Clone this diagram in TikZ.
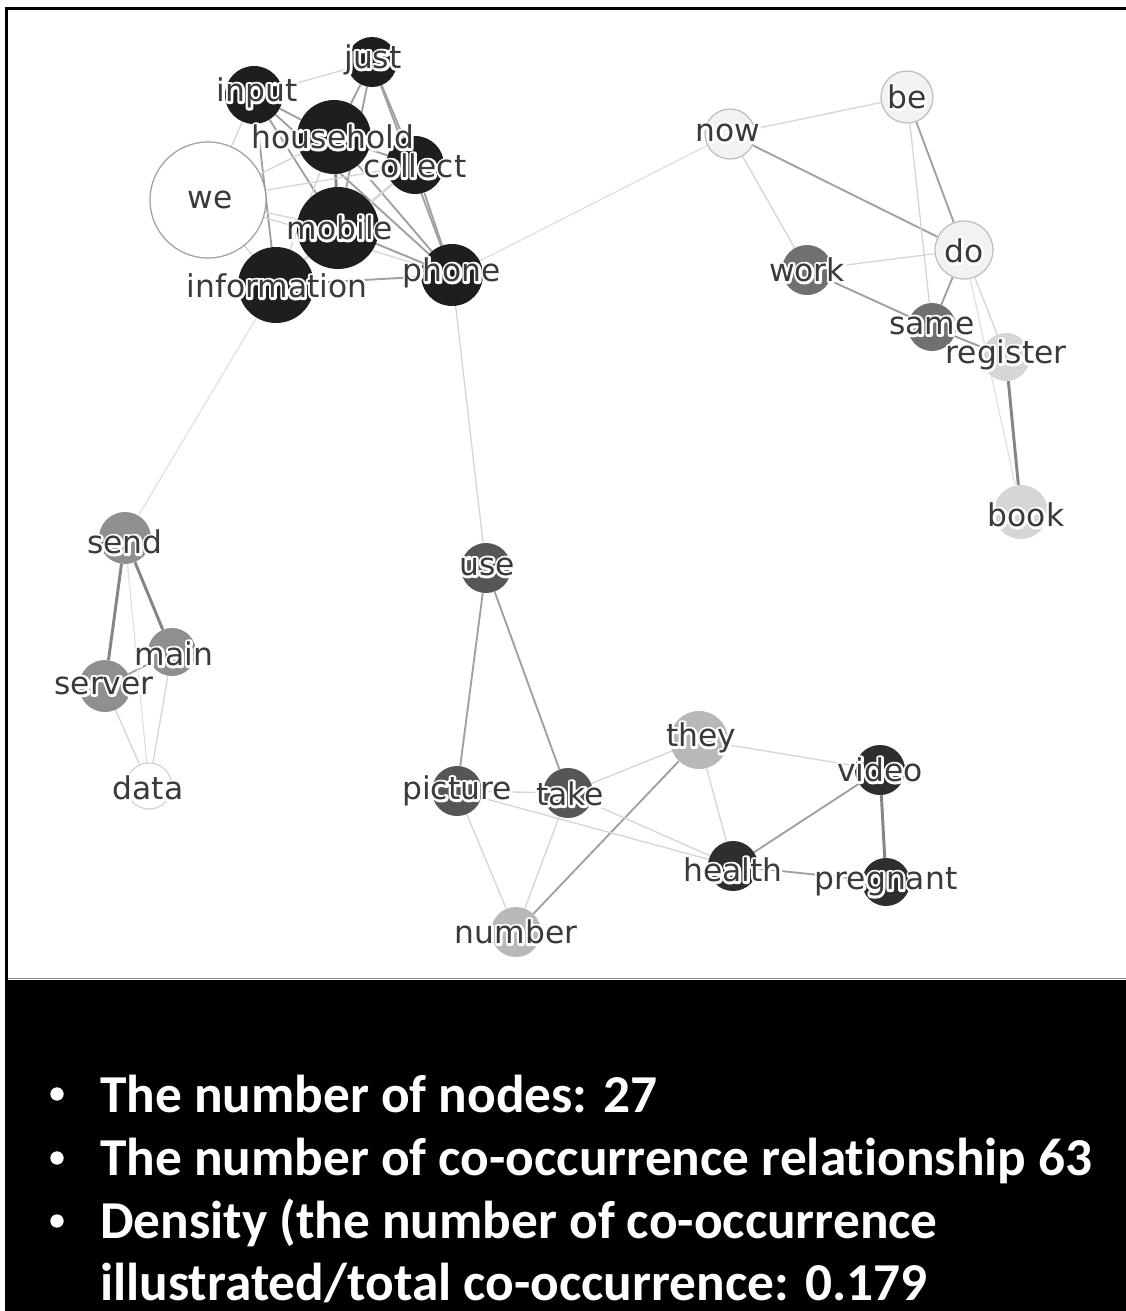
\documentclass[tikz,border=0pt]{standalone}
\usepackage{fontspec}
\setmainfont{DejaVu Sans}
\newfontfamily\wordfont{DejaVu Sans}
\newfontfamily\statfont{Carlito}[Ligatures=NoCommon]
\pgfdeclarelayer{ground}
\pgfdeclarelayer{edges}
\pgfdeclarelayer{labels}
\pgfsetlayers{ground,edges,main,labels}

\definecolor{cTop}{HTML}{1E1E1E}
\definecolor{cPale}{HTML}{F2F2F2}
\definecolor{cPaleLine}{HTML}{BDBDBD}
\definecolor{cWork}{HTML}{707070}
\definecolor{cReg}{HTML}{D6D6D6}
\definecolor{cSend}{HTML}{8F8F8F}
\definecolor{cUse}{HTML}{565656}
\definecolor{cThey}{HTML}{B8B8B8}
\definecolor{cHealth}{HTML}{2E2E2E}
\definecolor{cText}{HTML}{3A3A3A}
\definecolor{eLight}{HTML}{D6D6D6}
\definecolor{eMid}{HTML}{A0A0A0}
\definecolor{eDark}{HTML}{858585}

% letters stroked in white first, then filled on top: a halo
\newcommand\halotext[1]{\leavevmode\rlap{\special{pdf:code q 1 Tr 3.6 w 1 j 1 J}\color{white}#1\special{pdf:code Q}}#1}

\tikzset{
  word/.style={circle, inner sep=0pt, minimum size=#1*1.5pt},
  wlab/.style={font=\wordfont\fontsize{23.5}{25}\selectfont, text=cText, inner sep=0pt},
  elight/.style={draw=eLight, line width=1pt},
  emid/.style={draw=eMid, line width=1.4pt},
  edark/.style={draw=eDark, line width=2.2pt},
  efaint/.style={draw=eLight!75, line width=0.9pt},
  statline/.style={font=\statfont\bfseries\fontsize{40}{48}\selectfont, text=white, anchor=base west, inner sep=0pt},
  dot/.style={circle, fill=white, inner sep=0pt, minimum size=10pt}
}

\newcommand\wordlabel[3]{\node[wlab] (#1) at (#2) {\halotext{#3}};}

\begin{document}
\begin{tikzpicture}[x=0.75pt,y=-0.75pt]
\useasboundingbox (0,0) rectangle (1126,1311);

% frame and statistics panel
\begin{pgfonlayer}{ground}
  \fill[white] (0,0) rectangle (1126,1311);
  \fill[black] (5,980) rectangle (1126,1311);
  \draw[line width=2.3pt] (6.5,1311) -- (6.5,8.5) -- (1126,8.5);
  \draw[black!45, line width=1pt] (8,978.5) -- (1126,978.5);
\end{pgfonlayer}

% ---- word circles ----
% cluster: mobile phone
\node[word=58, fill=white, draw=black!38, line width=0.9pt] (we) at (208,200) {};
\node[word=25, fill=cTop] (just) at (372,62) {};
\node[word=29, fill=cTop] (input) at (254,95) {};
\node[word=29, fill=cTop] (collect) at (415,165) {};
\node[word=37, fill=cTop] (household) at (334,137) {};
\node[word=41, fill=cTop] (mobile) at (338,228) {};
\node[word=38, fill=cTop] (information) at (276,285) {};
\node[word=31, fill=cTop] (phone) at (452,275) {};
% cluster: now / do
\node[word=26, fill=cPale, draw=cPaleLine, line width=0.9pt] (be) at (907,97) {};
\node[word=25, fill=cPale, draw=cPaleLine, line width=0.9pt] (now) at (730,134) {};
\node[word=29, fill=cPale, draw=cPaleLine, line width=0.9pt] (do) at (964,250) {};
\node[word=25, fill=cWork] (work) at (807,270) {};
\node[word=24, fill=cWork] (same) at (932,327) {};
\node[word=24, fill=cReg] (register) at (1006,357) {};
\node[word=27, fill=cReg] (book) at (1021,512) {};
% cluster: send / server
\node[word=26, fill=cSend] (send) at (125,538) {};
\node[word=24, fill=cSend] (main) at (172,652) {};
\node[word=26, fill=cSend] (server) at (105,686) {};
\node[word=23, fill=white, draw=black!18, line width=0.9pt] (data) at (149,786) {};
% cluster: use / health
\node[word=25, fill=cUse] (use) at (486,568) {};
\node[word=25, fill=cUse] (picture) at (457,791) {};
\node[word=25, fill=cUse] (take) at (568,793) {};
\node[word=29, fill=cThey] (they) at (699,740) {};
\node[word=25, fill=cHealth] (video) at (880,770) {};
\node[word=25, fill=cHealth] (health) at (733,866) {};
\node[word=24, fill=cHealth] (pregnant) at (886,882) {};
\node[word=25, fill=cThey] (number) at (516,932) {};

% ---- co-occurrence links ----
\begin{pgfonlayer}{edges}
  % mobile phone cluster
  \draw[emid] (input) -- (household);
  \draw[emid] (just) -- (household);
  \draw[emid] (just) -- (collect);
  \draw[emid] (just) -- (phone);
  \draw[emid] (just) -- (mobile);
  \draw[edark] (household) -- (mobile);
  \draw[emid] (household) -- (collect);
  \draw[emid] (household) -- (phone);
  \draw[emid] (collect) -- (phone);
  \draw[emid] (mobile) -- (phone);
  \draw[emid] (information) -- (phone);
  \draw[emid] (input) -- (information);
  \draw[emid] (input) -- (mobile);
  \draw[emid] (input) -- (phone);
  \draw[elight] (input) -- (just);
  \draw[elight] (we) -- (mobile);
  \draw[elight] (we) -- (household);
  \draw[elight] (we) -- (input);
  \draw[elight] (we) -- (information);
  \draw[elight] (we) -- (collect);
  \draw[elight] (we) -- (phone);
  \draw[elight] (collect) -- (mobile);
  \draw[elight] (mobile) -- (information);
  \draw[elight] (household) -- (information);
  \draw[elight] (collect) -- (information);
  % bridges between clusters
  \draw[efaint] (phone) -- (now);
  \draw[efaint] (information) -- (send);
  \draw[elight] (phone) -- (use);
  % now / do cluster
  \draw[emid] (now) -- (do);
  \draw[emid] (be) -- (do);
  \draw[emid] (work) -- (same);
  \draw[emid] (do) -- (same);
  \draw[emid] (same) -- (register);
  \draw[edark] (register) -- (book);
  \draw[elight] (now) -- (be);
  \draw[elight] (now) -- (work);
  \draw[elight] (be) -- (same);
  \draw[elight] (work) -- (do);
  \draw[elight] (do) -- (register);
  \draw[efaint] (do) -- (book);
  % send / server cluster
  \draw[edark] (send) -- (server);
  \draw[edark] (send) -- (main);
  \draw[emid] (server) -- (main);
  \draw[elight] (server) -- (data);
  \draw[elight] (main) -- (data);
  \draw[efaint] (send) -- (data);
  % use / health cluster
  \draw[emid] (use) -- (picture);
  \draw[emid] (use) -- (take);
  \draw[emid] (they) -- (number);
  \draw[emid] (health) -- (video);
  \draw[edark] (video) -- (pregnant);
  \draw[emid] (health) -- (pregnant);
  \draw[elight] (picture) -- (take);
  \draw[elight] (take) -- (they);
  \draw[elight] (picture) -- (number);
  \draw[elight] (take) -- (number);
  \draw[elight] (picture) -- (health);
  \draw[elight] (take) -- (health);
  \draw[elight] (they) -- (health);
  \draw[elight] (they) -- (video);
\end{pgfonlayer}

% ---- word labels ----
\begin{pgfonlayer}{labels}
  \wordlabel{we-l}{210,200}{we}
  \wordlabel{just-l}{373,60}{just}
  \wordlabel{input-l}{257,93}{input}
  \wordlabel{household-l}{333,137}{household}
  \wordlabel{collect-l}{415,166}{collect}
  \wordlabel{mobile-l}{340,228}{mobile}
  \wordlabel{information-l}{277,286}{information}
  \wordlabel{phone-l}{452,273}{phone}
  \wordlabel{be-l}{907,97}{be}
  \wordlabel{now-l}{728,133}{now}
  \wordlabel{do-l}{964,251}{do}
  \wordlabel{work-l}{807,270}{work}
  \wordlabel{same-l}{932,326}{same}
  \wordlabel{register-l}{1006,355}{register}
  \wordlabel{book-l}{1026,515}{book}
  \wordlabel{send-l}{125,542}{send}
  \wordlabel{main-l}{174,654}{main}
  \wordlabel{server-l}{104,686}{server}
  \wordlabel{data-l}{148,788}{data}
  \wordlabel{use-l}{487,567}{use}
  \wordlabel{picture-l}{457,791}{picture}
  \wordlabel{take-l}{570,794}{take}
  \wordlabel{they-l}{701,738}{they}
  \wordlabel{video-l}{880,770}{video}
  \wordlabel{health-l}{733,870}{health}
  \wordlabel{pregnant-l}{886,882}{pregnant}
  \wordlabel{number-l}{516,932}{number}
\end{pgfonlayer}

% ---- statistics ----
\node[dot] (b1) at (57,1094) {};
\node[dot] (b2) at (57,1158) {};
\node[dot] (b3) at (57,1221) {};
\node[statline] (s1) at (100,1112) {The number of nodes: 27};
\node[statline] (s2) at (100,1175) {The number of co-occurrence relationship 63};
\node[statline] (s3) at (100,1238) {Density (the number of co-occurrence};
\node[statline] (s4) at (100,1300) {illustrated/total co-occurrence: 0.179};
\end{tikzpicture}
\end{document}
